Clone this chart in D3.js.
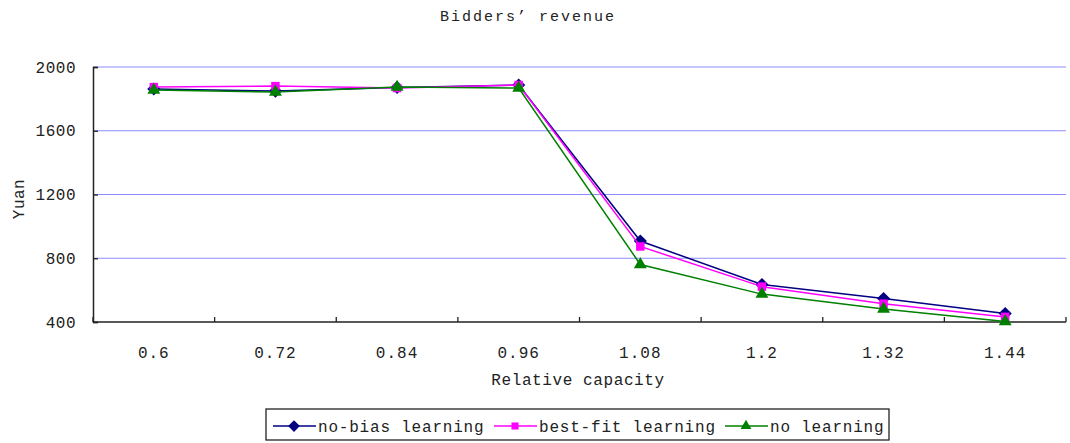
<!DOCTYPE html>
<html>
<head>
<meta charset="utf-8">
<script src="https://cdn.jsdelivr.net/npm/d3@7"></script>
<style>
  body { margin: 0; background: #fff; }
  text { font-family: "Liberation Mono", "DejaVu Sans Mono", monospace; fill: #222; }
</style>
</head>
<body>
<div id="chart"></div>
<script>
// categories on the x axis
var capacities = ["0.6", "0.72", "0.84", "0.96", "1.08", "1.2", "1.32", "1.44"];
// bidders' revenue per series
var noBias   = [1862, 1849, 1872, 1887, 908, 635, 547, 453];
var bestFit  = [1874, 1880, 1868, 1887, 874, 622, 515, 432];
var noLearn  = [1855, 1843, 1874, 1868, 761, 575, 482, 403];
var yTicks   = [400, 800, 1200, 1600, 2000];

// square-ish diamond if this d3 has it
var diamond = d3.symbolDiamond2 || d3.symbolDiamond;
var bigDiamond = d3.symbolDiamond2 ? 110 : 64;

var series = [
  {name: "no-bias learning",  values: noBias,  color: "#000080", shape: diamond},
  {name: "best-fit learning", values: bestFit, color: "#ff00ff", shape: d3.symbolSquare},
  {name: "no learning",       values: noLearn, color: "#008000", shape: d3.symbolTriangle}
];

var W = 1070, H = 443;
var margin = {top: 67, right: 4, bottom: 121, left: 93};
var width = W - margin.left - margin.right,
    height = H - margin.top - margin.bottom;

var svg = d3.select("#chart").append("svg")
    .attr("width", W)
    .attr("height", H);

var g = svg.append("g")
    .attr("transform", "translate(" + margin.left + "," + margin.top + ")");

var x = d3.scaleBand().domain(capacities).range([0, width]);
var y = d3.scaleLinear().domain([400, 2000]).range([height, 0]);

// gridlines
g.append("g").selectAll("line")
    .data(yTicks.filter(function (d) { return d > 400; }))
    .enter().append("line")
    .attr("x1", 0).attr("x2", width)
    .attr("y1", function (d) { return y(d); })
    .attr("y2", function (d) { return y(d); })
    .attr("stroke", "#8c8cff")
    .attr("stroke-width", 1);

// y axis
var yAxis = g.append("g")
    .call(d3.axisLeft(y).tickValues(yTicks).tickSize(-5).tickPadding(17).tickFormat(d3.format("d")));
yAxis.select(".domain").attr("stroke", "#222").attr("stroke-width", 1.5);
yAxis.selectAll(".tick line").attr("stroke", "#222").attr("stroke-width", 1.3);
yAxis.selectAll("text").style("font-size", "16px").attr("letter-spacing", "0.5px");

// x axis, ticks at the band boundaries
var xAxis = g.append("g").attr("transform", "translate(0," + height + ")");
xAxis.append("line")
    .attr("x1", 0).attr("x2", width)
    .attr("stroke", "#222").attr("stroke-width", 1.5);
var bounds = capacities.map(function (c) { return x(c); }).concat([width]);
xAxis.selectAll(".xt")
    .data(bounds)
    .enter().append("line")
    .attr("class", "xt")
    .attr("x1", function (d) { return d; })
    .attr("x2", function (d) { return d; })
    .attr("y1", 0).attr("y2", -5)
    .attr("stroke", "#222").attr("stroke-width", 1.3);
xAxis.selectAll(".xl")
    .data(capacities)
    .enter().append("text")
    .attr("class", "xl")
    .attr("x", function (d) { return x(d) + x.bandwidth() / 2; })
    .attr("y", 36)
    .attr("text-anchor", "middle")
    .style("font-size", "16px")
    .attr("letter-spacing", "1px")
    .text(function (d) { return d; });

// titles
svg.append("text")
    .attr("x", 528).attr("y", 21)
    .attr("text-anchor", "middle")
    .style("font-size", "15px")
    .attr("letter-spacing", "2px")
    .text("Bidders\u2019 revenue");

svg.append("text")
    .attr("x", 578).attr("y", 385)
    .attr("text-anchor", "middle")
    .style("font-size", "16px")
    .attr("letter-spacing", "0.6px")
    .text("Relative capacity");

svg.append("text")
    .attr("transform", "translate(24,199) rotate(-90)")
    .attr("text-anchor", "middle")
    .style("font-size", "16px")
    .attr("letter-spacing", "0.5px")
    .text("Yuan");

// lines + markers
var line = d3.line()
    .x(function (d, i) { return x(capacities[i]) + x.bandwidth() / 2; })
    .y(function (d) { return y(d); });

series.forEach(function (s) {
    g.append("path")
        .datum(s.values)
        .attr("fill", "none")
        .attr("stroke", s.color)
        .attr("stroke-width", 1.5)
        .attr("d", line);
    g.selectAll(null)
        .data(s.values)
        .enter().append("path")
        .attr("transform", function (d, i) {
            return "translate(" + (x(capacities[i]) + x.bandwidth() / 2) + "," + y(d) + ")";
        })
        .attr("d", d3.symbol().type(s.shape).size(s.shape === diamond ? bigDiamond : 72))
        .attr("fill", s.color);
});

// legend
var legend = svg.append("g").attr("transform", "translate(266,409)");
legend.append("rect")
    .attr("width", 623).attr("height", 31)
    .attr("fill", "#fff").attr("stroke", "#222").attr("stroke-width", 1.3);
var legX = [7, 228, 459];
var item = legend.selectAll(".item")
    .data(series)
    .enter().append("g")
    .attr("class", "item")
    .attr("transform", function (d, i) { return "translate(" + legX[i] + ",17)"; });
item.append("line")
    .attr("x1", 0).attr("x2", 43)
    .attr("stroke", function (d) { return d.color; })
    .attr("stroke-width", 1.5);
item.append("path")
    .attr("transform", "translate(21,0)")
    .attr("d", function (d) {
        return d3.symbol().type(d.shape).size(d.shape === diamond ? bigDiamond * 0.8 : 50)();
    })
    .attr("fill", function (d) { return d.color; });
item.append("text")
    .attr("x", 45).attr("y", 6)
    .style("font-size", "16px")
    .attr("letter-spacing", "0.8px")
    .text(function (d) { return d.name; });
</script>
</body>
</html>
